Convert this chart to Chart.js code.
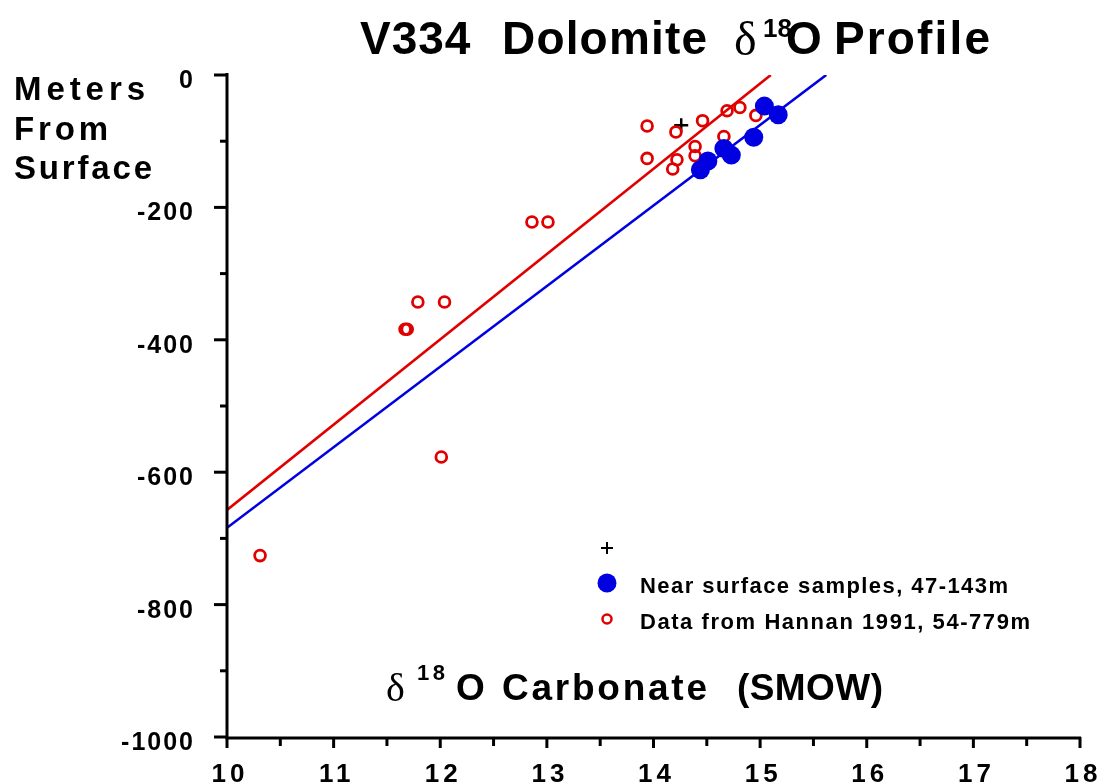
<!DOCTYPE html>
<html>
<head>
<meta charset="utf-8">
<script src="https://cdn.jsdelivr.net/npm/chart.js@4/dist/chart.umd.min.js"></script>
<style>
  html, body { margin: 0; padding: 0; background: #fff; }
  #wrap { width: 1097px; height: 784px; }
</style>
</head>
<body>
<div id="wrap"><canvas id="chart"></canvas></div>
<script>
// --- data ---
const hannanX = [10.31, 11.67, 11.69, 11.79, 12.04, 12.01, 12.86, 13.01, 13.94, 13.94,
                 14.21, 14.22, 14.18, 14.39, 14.39, 14.46, 14.66, 14.69, 14.81, 14.96];
const hannanY = [-726, -384, -384, -343, -343, -577, -222, -222, -77, -126,
                 -86, -128, -142, -108, -122, -69, -93, -54, -49, -61];

const nearX = [15.04, 15.17, 14.94, 14.66, 14.73, 14.51, 14.44];
const nearY = [-47, -60, -94, -111, -121, -130, -143];

const plusX = [14.26];
const plusY = [-76];

// regression lines (end points)
const redLineX = [10, 15.10];
const redLineY = [-657, 0];
const blueLineX = [10, 15.62];
const blueLineY = [-684, 0];

const xTickLabels = [10, 11, 12, 13, 14, 15, 16, 17, 18];
const yTickLabels = [0, -200, -400, -600, -800, -1000];

const legendLabels = ['', 'Near surface samples, 47-143m', 'Data from Hannan 1991, 54-779m'];

const RED = '#e00000';
const BLUE = '#0000e0';
const FONT = '"Liberation Sans", Arial, sans-serif';
const SERIF = '"Liberation Serif", "DejaVu Serif", serif';

function pts(xs, ys) {
  return xs.map((x, i) => ({ x: x, y: ys[i] }));
}

// bold text; width = total width to spread to, or spacing in px if sp is given
function txt(ctx, text, x, y, size, width, align, sp) {
  ctx.save();
  ctx.font = 'bold ' + size + 'px ' + FONT;
  ctx.letterSpacing = '0px';
  const natural = ctx.measureText(text).width;
  const n = Math.max(text.length - 1, 1);
  let gap = (sp !== undefined) ? sp : (width - natural) / n;
  const total = natural + gap * (text.length - 1);
  let left = x;
  if (align === 'right') left = x - total;
  if (align === 'center') left = x - total / 2;
  ctx.letterSpacing = gap + 'px';
  ctx.textAlign = 'left';
  ctx.fillText(text, left, y);
  ctx.restore();
}

// draws axes, ticks, labels, titles and legend
const decorations = {
  id: 'decorations',
  afterDraw(chart) {
    const ctx = chart.ctx;
    const xs = chart.scales.x;
    const ys = chart.scales.y;
    const area = chart.chartArea;
    ctx.save();
    ctx.strokeStyle = '#000';
    ctx.fillStyle = '#000';
    ctx.lineWidth = 3;
    ctx.lineCap = 'butt';
    ctx.textBaseline = 'alphabetic';

    // axis lines
    ctx.beginPath();
    ctx.moveTo(area.left, area.top - 2);
    ctx.lineTo(area.left, area.bottom + 1);
    ctx.lineTo(area.right + 1, area.bottom + 1);
    ctx.stroke();

    // y ticks (major every 200, minor every 100)
    for (let v = 0; v >= -1000; v -= 100) {
      const py = ys.getPixelForValue(v);
      const len = (v % 200 === 0) ? 13 : 7;
      ctx.beginPath();
      ctx.moveTo(area.left - len, py);
      ctx.lineTo(area.left, py);
      ctx.stroke();
    }
    // x ticks (every 0.5)
    for (let v = 10; v <= 18; v += 0.5) {
      const px = xs.getPixelForValue(v);
      const len = (v % 1 === 0) ? 11 : 9;
      ctx.beginPath();
      ctx.moveTo(px, area.bottom);
      ctx.lineTo(px, area.bottom + len);
      ctx.stroke();
    }

    // tick labels
    yTickLabels.forEach(v => {
      const py = ys.getPixelForValue(v);
      txt(ctx, String(v), area.left - 34, py + 13, 25, 0, 'right', 2);
    });
    xTickLabels.forEach(v => {
      const px = xs.getPixelForValue(v);
      txt(ctx, String(v), px + 1, 782, 26, 0, 'center', 4);
    });

    // y axis title
    txt(ctx, 'Meters', 14, 100, 33, 131, 'left');
    txt(ctx, 'From', 14, 140, 33, 94, 'left');
    txt(ctx, 'Surface', 14, 179, 33, 138, 'left');

    // main title
    txt(ctx, 'V334', 360, 54, 46, 0, 'left', 1);
    txt(ctx, 'Dolomite', 502, 54, 46, 205, 'left');
    ctx.font = '48px ' + SERIF;
    ctx.textAlign = 'left';
    ctx.fillText('\u03b4', 734, 55);
    txt(ctx, '18', 763, 37, 26, 0, 'left', 0);
    txt(ctx, 'O', 786, 54, 46, 0, 'left', 0);
    txt(ctx, 'Profile', 834, 54, 46, 156, 'left');

    // x axis title
    ctx.font = '40px ' + SERIF;
    ctx.fillText('\u03b4', 386, 701);
    txt(ctx, '18', 417, 680, 22, 28, 'left');
    txt(ctx, 'O', 456, 700, 37, 0, 'left', 0);
    txt(ctx, 'Carbonate', 502, 700, 37, 205, 'left');
    txt(ctx, '(SMOW)', 737, 700, 37, 146, 'left');

    // legend
    const lx = 607;
    ctx.lineWidth = 2;
    ctx.beginPath();
    ctx.moveTo(lx - 6, 548); ctx.lineTo(lx + 6, 548);
    ctx.moveTo(lx, 542); ctx.lineTo(lx, 554);
    ctx.stroke();
    ctx.fillStyle = BLUE;
    ctx.beginPath();
    ctx.arc(lx, 583, 9.5, 0, Math.PI * 2);
    ctx.fill();
    ctx.strokeStyle = RED;
    ctx.lineWidth = 2.5;
    ctx.beginPath();
    ctx.arc(lx, 619, 4.5, 0, Math.PI * 2);
    ctx.stroke();
    ctx.fillStyle = '#000';
    txt(ctx, legendLabels[1], 640, 593, 22, 368, 'left');
    txt(ctx, legendLabels[2], 640, 629, 22, 390, 'left');

    ctx.restore();
  }
};

const ctx = document.getElementById('chart').getContext('2d');
new Chart(ctx, {
  type: 'scatter',
  data: {
    datasets: [
      {
        label: 'plus',
        data: pts(plusX, plusY),
        pointStyle: 'cross',
        pointRadius: 7,
        borderColor: '#000',
        borderWidth: 2.5,
        order: 3
      },
      {
        label: 'Near surface samples, 47-143m',
        data: pts(nearX, nearY),
        pointRadius: 9.5,
        backgroundColor: BLUE,
        borderColor: BLUE,
        borderWidth: 0,
        order: 1
      },
      {
        label: 'Data from Hannan 1991, 54-779m',
        data: pts(hannanX, hannanY),
        pointRadius: 5.4,
        backgroundColor: 'rgba(0,0,0,0)',
        borderColor: RED,
        borderWidth: 2.8,
        order: 2
      },
      {
        label: 'red fit',
        data: pts(redLineX, redLineY),
        showLine: true,
        pointRadius: 0,
        borderColor: RED,
        borderWidth: 2.6,
        order: 5
      },
      {
        label: 'blue fit',
        data: pts(blueLineX, blueLineY),
        showLine: true,
        pointRadius: 0,
        borderColor: BLUE,
        borderWidth: 2.6,
        order: 6
      }
    ]
  },
  options: {
    responsive: true,
    maintainAspectRatio: false,
    animation: false,
    events: [],
    layout: { padding: { left: 0, right: 17, top: 75, bottom: 0 } },
    plugins: {
      legend: { display: false },
      tooltip: { enabled: false },
      title: { display: false }
    },
    scales: {
      x: {
        type: 'linear',
        min: 10,
        max: 18,
        grid: { display: false },
        border: { display: false },
        ticks: { display: false, stepSize: 1 },
        afterFit(scale) { scale.height = 47; }
      },
      y: {
        type: 'linear',
        min: -1000,
        max: 0,
        grid: { display: false },
        border: { display: false },
        ticks: { display: false, stepSize: 200 },
        afterFit(scale) { scale.width = 227; }
      }
    }
  },
  plugins: [decorations]
});
</script>
</body>
</html>
